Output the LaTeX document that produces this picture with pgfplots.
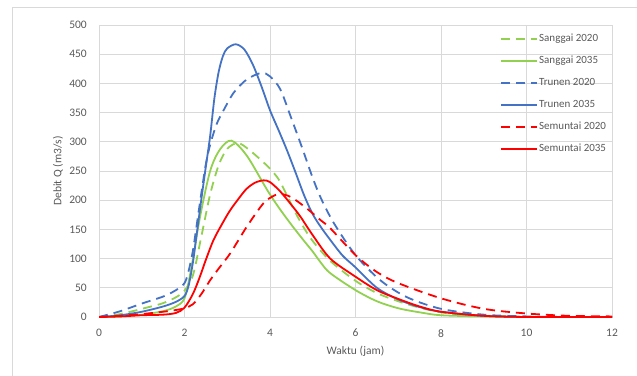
\documentclass[border=0pt]{standalone}
\usepackage{pgfplots}
\pgfplotsset{compat=1.18}
\usepackage{fontspec}
\setmainfont{Carlito}
\definecolor{cgreen}{HTML}{92D050}
\definecolor{cblue}{HTML}{4472C4}
\definecolor{cred}{HTML}{FF0000}
\definecolor{cgrid}{HTML}{D9D9D9}
\definecolor{ctext}{HTML}{595959}
\begin{document}
\begin{tikzpicture}
\useasboundingbox (-99bp,-59bp) rectangle (538bp,317bp);
\draw[cgrid, line width=0.75bp] (-87bp,-80bp) -- (-87bp,310bp) -- (560bp,310bp);
\begin{axis}[
  at={(0,0)}, anchor=south west,
  scale only axis, width=513bp, height=292bp,
  xmin=0, xmax=12, ymin=0, ymax=500,
  xtick={0,2,...,12}, ytick={0,50,...,500},
  grid=major, grid style={cgrid, line width=0.75bp},
  axis line style={cgrid, line width=0.75bp},
  tick style={draw=none},
  /pgf/number format/assume math mode=true,
  tick label style={font=\fontsize{11.5bp}{13bp}\selectfont, text=ctext},
  y tick label style={anchor=east, inner sep=0pt, xshift=-12bp},
  x tick label style={anchor=north, inner sep=0pt, yshift=-12bp},
  xlabel={Waktu (jam)}, ylabel={Debit Q (m3/s)},
  every axis x label/.style={at={(axis description cs:0.5,-0.1164)}, anchor=center, font=\fontsize{11.5bp}{13bp}\selectfont, text=ctext},
  every axis y label/.style={at={(axis description cs:-0.0799,0.5)}, anchor=center, rotate=90, font=\fontsize{11.5bp}{13bp}\selectfont, text=ctext},
  legend cell align=left,
  legend style={draw=none, fill=none, at={(0.782,0.975)}, anchor=north west, inner sep=0pt,
    font=\fontsize{11bp}{13bp}\selectfont, text=ctext, row sep=9.5bp,
    nodes={inner sep=1bp, text height=8bp, text depth=2.5bp}},
  legend image code/.code={\draw[#1] (0bp,0bp) -- (36bp,0bp);},
  every axis plot/.append style={line width=1.8bp, smooth, tension=0.5},
]
% Sanggai 2020
\addplot[cgreen, dash pattern=on 9bp off 6bp] coordinates {
(0,0) (0.5,5) (1,14) (1.47,23) (1.78,33) (2.0,45) (2.2,72) (2.4,140) (2.6,210) (2.8,260) (3.0,288) (3.25,298) (3.5,287) (3.8,268) (4.0,254) (4.2,236) (4.4,208) (4.6,178) (4.8,152) (5.0,130) (5.41,96) (6,62) (6.5,41) (7,27) (7.5,16) (8,8) (8.5,4) (9,2) (10,0.3) (11,0) (12,0)};
\addlegendentry{Sanggai 2020}
% Sanggai 2035
\addplot[cgreen] coordinates {
(0,0) (0.5,1) (1,4) (1.5,10) (1.8,18) (2.0,32) (2.15,80) (2.36,170) (2.6,250) (2.83,287) (3.1,302) (3.46,276) (3.93,218) (4.2,188) (4.5,158) (4.8,130) (5.0,112) (5.2,92) (5.41,75) (6,46) (6.5,27) (7,15) (7.5,8) (8,3) (9,1) (10,0) (11,0) (12,0)};
\addlegendentry{Sanggai 2035}
% Trunen 2020
\addplot[cblue, dash pattern=on 9bp off 6bp] coordinates {
(0,0) (0.5,10) (1,23) (1.5,35) (1.8,46) (2.0,58) (2.1,80) (2.2,115) (2.3,165) (2.4,215) (2.5,262) (2.6,295) (2.75,330) (2.9,352) (3.15,384) (3.46,407) (3.8,418) (4.0,412) (4.24,390) (4.5,340) (4.75,290) (5.0,238) (5.2,202) (5.5,160) (6,106) (6.58,63) (7.2,34) (8,14) (9,4) (10,1) (11,0) (12,0)};
\addlegendentry{Trunen 2020}
% Trunen 2035
\addplot[cblue] coordinates {
(0,0) (0.5,3) (1,9) (1.5,18) (1.8,26) (2.0,36) (2.1,55) (2.2,95) (2.3,150) (2.4,205) (2.5,258) (2.6,310) (2.7,375) (2.8,420) (2.9,447) (3.0,460) (3.2,467) (3.4,458) (3.6,432) (3.8,395) (4.0,354) (4.2,320) (4.4,285) (4.6,247) (4.8,208) (5.0,176) (5.2,153) (5.41,132) (5.7,105) (6,85) (6.5,50) (7,30) (7.5,17) (8,9) (9,2) (10,0) (11,0) (12,0)};
\addlegendentry{Trunen 2035}
% Semuntai 2020
\addplot[cred, dash pattern=on 9bp off 6bp] coordinates {
(0,0) (0.5,2) (1,5) (1.5,9) (1.8,12) (2.0,15) (2.2,22) (2.4,40) (2.6,63) (2.8,83) (3.07,109) (3.46,155) (3.85,195) (4.1,208) (4.24,211) (4.5,205) (4.86,186) (5.18,166) (5.41,152) (6,106) (6.5,77) (7,58) (8,32) (9,14) (10,6) (11,2) (12,1)};
\addlegendentry{Semuntai 2020}
% Semuntai 2035
\addplot[cred] coordinates {
(0,0) (0.5,1) (1,3) (1.5,4) (1.8,7) (2.0,16) (2.2,40) (2.36,69) (2.5,98) (2.68,132) (2.9,162) (3.07,183) (3.3,206) (3.46,220) (3.65,230) (3.85,234) (4.0,231) (4.24,215) (4.5,192) (4.71,172) (5.0,140) (5.41,100) (6,69) (6.5,46) (7,31) (7.5,18) (8,9) (9,2) (10,0) (11,0) (12,0)};
\addlegendentry{Semuntai 2035}
\end{axis}
\end{tikzpicture}
\end{document}
